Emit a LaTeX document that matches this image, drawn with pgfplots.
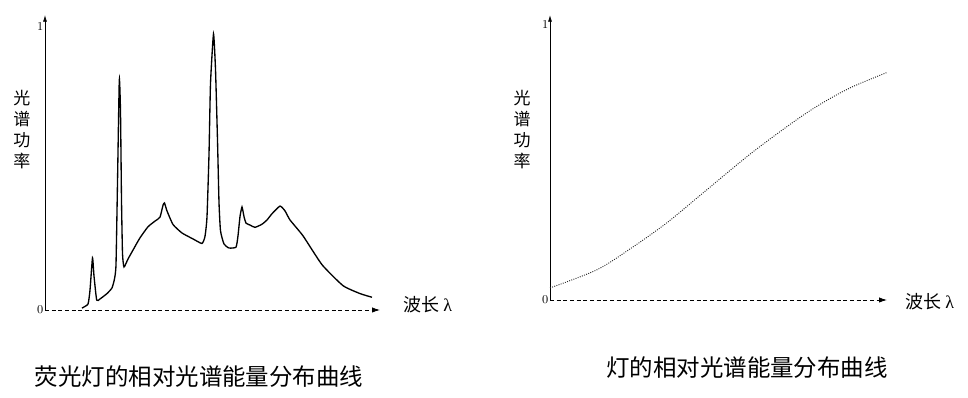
\documentclass[border=0pt]{standalone}
\usepackage{pgfplots}
\pgfplotsset{compat=1.18}
\usepackage{fontspec}
\newfontfamily\cjk{Noto Sans CJK SC}
\newfontfamily\serif{Liberation Serif}
\usetikzlibrary{arrows.meta}
\def\u{0.75pt}
\pgfplotstableread{
x y
37 0.007
43 0.021
45 0.07
47.5 0.184
49 0.12
51.7 0.035
55 0.039
62 0.058
67 0.078
69.5 0.11
71 0.16
72.5 0.45
74.3 0.813
75.5 0.70
76.5 0.389
77.5 0.2
79 0.152
83 0.180
89 0.218
95 0.255
103 0.294
110 0.314
115 0.328
118 0.370
119.5 0.378
122 0.35
128 0.302
137 0.272
148 0.251
157 0.235
160 0.26
162 0.329
164 0.55
165.5 0.80
168.5 0.975
170.5 0.85
172.5 0.60
174 0.38
175.5 0.28
179 0.233
184 0.219
191 0.222
193 0.262
195 0.33
197 0.364
199 0.33
201 0.307
205 0.300
210 0.292
217 0.303
222 0.318
227 0.340
235 0.367
240 0.350
245 0.318
258 0.262
277 0.160
298 0.086
315 0.058
327 0.045
}\fluor
\pgfplotstableread{
x y
0 0.044
47 0.110
83 0.193
117 0.281
150 0.380
200 0.530
243 0.646
270 0.711
300 0.771
337 0.827
}\lamp
\pgfplotsset{
  myaxis/.style={
    scale only axis, clip=false,
    axis lines=left,
    axis line style={line width=0.6pt},
    x axis line style={densely dashed, -{Latex[length=6pt,width=4pt]}},
    y axis line style={-{Latex[length=5pt,width=3pt]}},
    xtick=\empty, ytick={0,1},
    major tick length=0pt,
    yticklabel style={font=\small, inner sep=1pt},
    anchor=south west,
  }
}
\begin{document}
\begin{tikzpicture}
\path[use as bounding box] (0,0) rectangle ({968*\u},{-398*\u});
\begin{axis}[myaxis, at={({45*\u},{-310*\u})},
  width={335*\u}, height={295*\u},
  xmin=0, xmax=335, ymin=0, ymax=1.042]
\addplot[black, line width=1pt, smooth, tension=0.3] table[x=x,y=y] {\fluor};
\end{axis}
\begin{axis}[myaxis, at={({550*\u},{-300*\u})},
  width={337*\u}, height={285*\u},
  xmin=0, xmax=337, ymin=0, ymax=1.036]
\addplot[black!85, line width=0.7pt, densely dotted, smooth] table[x=x,y=y] {\lamp};
\end{axis}
\node[align=center, font=\cjk\fontsize{12.75}{15.75}\selectfont] at ({22*\u},{-130*\u}) {光\\谱\\功\\率};
\node[align=center, font=\cjk\fontsize{12.75}{15.75}\selectfont] at ({522*\u},{-130*\u}) {光\\谱\\功\\率};
\node[anchor=west, inner sep=0pt, font=\cjk\fontsize{13.5}{16}\selectfont] at ({403*\u},{-305*\u}) {波长 {\serif λ}};
\node[anchor=west, inner sep=0pt, font=\cjk\fontsize{13.5}{16}\selectfont] at ({905*\u},{-302*\u}) {波长 {\serif λ}};
\node[font=\cjk\fontsize{17.6}{20}\selectfont] at ({199*\u},{-377*\u}) {荧光灯的相对光谱能量分布曲线};
\node[font=\cjk\fontsize{17.6}{20}\selectfont] at ({747*\u},{-368*\u}) {灯的相对光谱能量分布曲线};
\end{tikzpicture}
\end{document}
